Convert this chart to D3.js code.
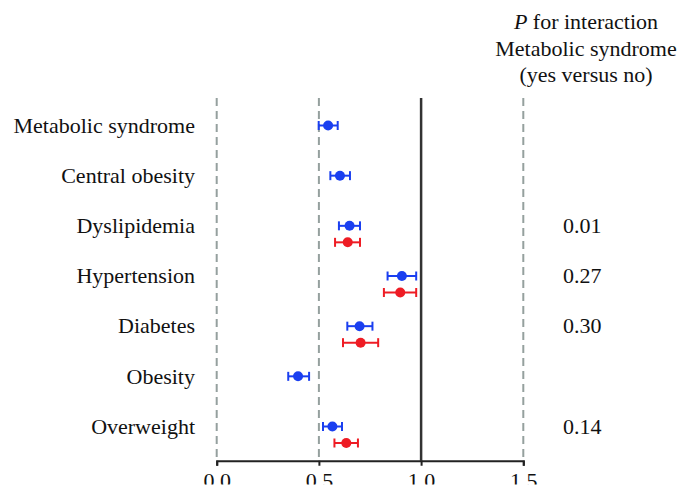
<!DOCTYPE html>
<html>
<head>
<meta charset="utf-8">
<script src="https://cdn.jsdelivr.net/npm/d3@7"></script>
<style>
  html, body { margin: 0; padding: 0; background: #fff; }
  svg { display: block; }
  text { font-family: "Liberation Serif", "Times New Roman", serif; fill: #111; }
</style>
</head>
<body>
<svg id="chart" width="686" height="500"></svg>
<script>
// ---- data ----
const categories = ["Metabolic syndrome", "Central obesity", "Dyslipidemia", "Hypertension", "Diabetes", "Obesity", "Overweight"];
const blueEst = [0.545, 0.603, 0.650, 0.906, 0.699, 0.398, 0.566];
const blueLo  = [0.499, 0.556, 0.598, 0.836, 0.639, 0.350, 0.520];
const blueHi  = [0.592, 0.652, 0.701, 0.976, 0.762, 0.452, 0.613];
const redEst  = [null, null, 0.641, 0.898, 0.704, null, 0.634];
const redLo   = [null, null, 0.579, 0.818, 0.618, null, 0.576];
const redHi   = [null, null, 0.701, 0.976, 0.790, null, 0.691];
const pValues = ["", "", "0.01", "0.27", "0.30", "", "0.14"];
const tickValues = [0, 0.5, 1.0, 1.5];
const tickLabels = ["0.0", "0.5", "1.0", "1.5"];
const headerLines = ["for interaction", "Metabolic syndrome", "(yes versus no)"];

// ---- layout ----
const svg = d3.select("#chart");
const x = d3.scaleLinear().domain([0, 1.5]).range([216.7, 523.3]);
const y = d3.scalePoint().domain(categories).range([125.5, 426.5]);
const redOffset = 16.5;
const axisY = 460.7;
const lineTop = 98;
const clipBottom = 484.5;
const fs = 22;
const blue = "#1a3ff0";
const red = "#ee1c24";

// reference lines
[0, 0.5, 1.5].forEach(v => {
  svg.append("line")
    .attr("x1", x(v)).attr("x2", x(v))
    .attr("y1", lineTop).attr("y2", axisY)
    .attr("stroke", "#95a09e").attr("stroke-width", 2)
    .attr("stroke-dasharray", "8,5");
});
svg.append("line")
  .attr("x1", x(1)).attr("x2", x(1))
  .attr("y1", lineTop).attr("y2", axisY)
  .attr("stroke", "#333").attr("stroke-width", 2.5);

// axis
const axis = d3.axisBottom(x)
  .tickValues(tickValues)
  .tickFormat((d, i) => tickLabels[i])
  .tickSize(5)
  .tickSizeOuter(5);
const gAxis = svg.append("g")
  .attr("transform", `translate(0,${axisY})`)
  .call(axis);
gAxis.append("clipPath").attr("id", "clipAxisLocal")
  .append("rect").attr("x", 0).attr("y", -20).attr("width", 686).attr("height", clipBottom - axisY + 20);
gAxis.attr("clip-path", "url(#clipAxisLocal)");
gAxis.select(".domain").attr("stroke", "#222").attr("stroke-width", 2);
gAxis.selectAll(".tick line").attr("stroke", "#222").attr("stroke-width", 2);
gAxis.selectAll(".tick text")
  .attr("font-family", "Liberation Serif, serif")
  .attr("font-size", fs).attr("fill", "#111").attr("dy", "0.71em").attr("y", 12);

// category labels
svg.append("g").selectAll("text")
  .data(categories).join("text")
  .attr("x", 195).attr("y", d => y(d))
  .attr("dy", "0.33em")
  .attr("text-anchor", "end")
  .attr("font-size", fs)
  .text(d => d);

// p-values
svg.append("g").selectAll("text")
  .data(categories).join("text")
  .attr("x", 563).attr("y", d => y(d))
  .attr("dy", "0.33em")
  .attr("font-size", fs)
  .text((d, i) => pValues[i]);

// header
const hx = 586;
const h1 = svg.append("text").attr("x", hx).attr("y", 29).attr("text-anchor", "middle").attr("font-size", fs);
h1.append("tspan").attr("font-style", "italic").text("P");
h1.append("tspan").text(" " + headerLines[0]);
svg.append("text").attr("x", hx).attr("y", 56).attr("text-anchor", "middle").attr("font-size", fs).text(headerLines[1]);
svg.append("text").attr("x", hx).attr("y", 82).attr("text-anchor", "middle").attr("font-size", fs).text(headerLines[2]);

// series drawing
function drawSeries(est, lo, hi, color, offset) {
  const idx = categories.map((c, i) => i).filter(i => est[i] !== null);
  const g = svg.append("g");
  const cap = 4.5;
  idx.forEach(i => {
    const cy = y(categories[i]) + offset;
    g.append("line").attr("x1", x(lo[i])).attr("x2", x(hi[i])).attr("y1", cy).attr("y2", cy)
      .attr("stroke", color).attr("stroke-width", 2);
    g.append("line").attr("x1", x(lo[i])).attr("x2", x(lo[i])).attr("y1", cy - cap).attr("y2", cy + cap)
      .attr("stroke", color).attr("stroke-width", 2);
    g.append("line").attr("x1", x(hi[i])).attr("x2", x(hi[i])).attr("y1", cy - cap).attr("y2", cy + cap)
      .attr("stroke", color).attr("stroke-width", 2);
    g.append("circle").attr("cx", x(est[i])).attr("cy", cy).attr("r", 5).attr("fill", color);
  });
}
drawSeries(blueEst, blueLo, blueHi, blue, 0);
drawSeries(redEst, redLo, redHi, red, redOffset);
</script>
</body>
</html>
